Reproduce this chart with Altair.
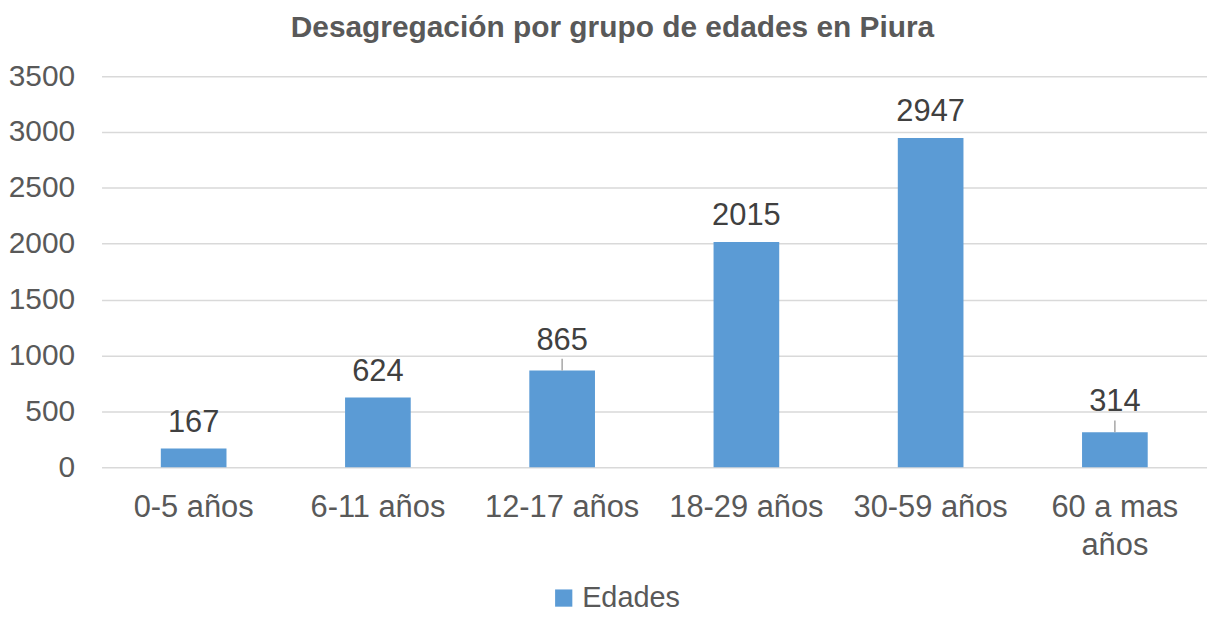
import altair as alt
import pandas as pd

categorias = ["0-5 años", "6-11 años", "12-17 años", "18-29 años", "30-59 años", "60 a mas años"]
valores = [167, 624, 865, 2015, 2947, 314]
serie = "Edades"
con_guia = ["12-17 años", "60 a mas años"]

df = pd.DataFrame({"cat": categorias, "valor": valores, "serie": [serie] * len(categorias)})

FONT = "Liberation Sans"
AX = "#595959"
BLUE = "#5B9BD5"

x = alt.X("cat:N", sort=categorias, title=None,
          axis=alt.Axis(labelAngle=0, labelFontSize=31, labelColor=AX, labelFont=FONT,
                        ticks=False, domain=False, labelPadding=26, labelLineHeight=38,
                        labelExpr="datum.label == '60 a mas años' ? ['60 a mas', 'años'] : datum.label"),
          scale=alt.Scale(paddingInner=0, paddingOuter=0))
y = alt.Y("valor:Q", title=None, scale=alt.Scale(domain=[0, 3500]),
          axis=alt.Axis(values=[0, 500, 1000, 1500, 2000, 2500, 3000, 3500], format="d",
                        labelFontSize=30, labelColor=AX, labelFont=FONT, ticks=False, domain=False,
                        labelPadding=27, gridColor="#D9D9D9", gridWidth=1.5))

base = alt.Chart(df)

bars = base.mark_bar(size=66, color=BLUE).encode(
    x=x, y=y,
    color=alt.Color("serie:N", scale=alt.Scale(range=[BLUE]), title=None,
                    legend=alt.Legend(orient="none", legendX=450, legendY=510, symbolType="square",
                                      symbolSize=300, labelFontSize=29, labelFont=FONT,
                                      labelColor=AX, symbolStrokeWidth=0, padding=0,
                                      labelOffset=4)),
)

normal = base.transform_filter(
    alt.FieldOneOfPredicate(field="cat", oneOf=[c for c in categorias if c not in con_guia])
).mark_text(fontSize=31, font=FONT, color="#404040", baseline="middle", dy=-26).encode(
    x=alt.X("cat:N", sort=categorias), y="valor:Q", text="valor:Q")

guia_txt = base.transform_filter(
    alt.FieldOneOfPredicate(field="cat", oneOf=con_guia)
).mark_text(fontSize=31, font=FONT, color="#404040", baseline="middle", dy=-30).encode(
    x=alt.X("cat:N", sort=categorias), y="valor:Q", text="valor:Q")

guia_line = base.transform_filter(
    alt.FieldOneOfPredicate(field="cat", oneOf=con_guia)
).transform_calculate(top="datum.valor + 105").mark_rule(color="#A6A6A6", strokeWidth=1.5).encode(
    x=alt.X("cat:N", sort=categorias), y="valor:Q", y2="top:Q")

chart = alt.layer(bars, guia_line, normal, guia_txt).properties(
    width=1111, height=393,
    autosize=alt.AutoSizeParams(type="none"),
    padding={"left": 94, "top": 67, "right": 0, "bottom": 146},
    title=alt.TitleParams("Desagregación por grupo de edades en Piura", fontSize=30, font=FONT,
                          fontWeight="bold", color=AX, anchor="middle", dx=-42, offset=18),
).configure_view(stroke=None)

chart.save("out.html", embed_options={"renderer": "svg", "actions": False})
